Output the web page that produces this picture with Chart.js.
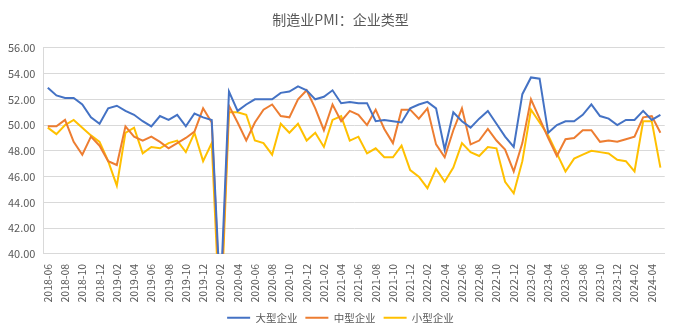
<!DOCTYPE html>
<html>
<head>
<meta charset="utf-8">
<script src="https://cdn.jsdelivr.net/npm/chart.js"></script>
<style>
  html, body { margin: 0; padding: 0; background: #fff; }
  #wrap { width: 675px; height: 329px; }
</style>
</head>
<body>
<div id="wrap"><canvas id="myChart"></canvas></div>
<script>
  // months 2018-06 .. 2024-05
  const months = [];
  for (let y = 2018; y <= 2024; y++) {
    for (let m = 1; m <= 12; m++) {
      if (y === 2018 && m < 6) continue;
      if (y === 2024 && m > 5) break;
      months.push(y + '-' + String(m).padStart(2, '0'));
    }
  }

  const large = [
    52.9, 52.3, 52.1, 52.1, 51.6, 50.6, 50.1, 51.3, 51.5, 51.1, 50.8, 50.3,
    49.9, 50.7, 50.4, 50.8, 49.9, 50.9, 50.6, 50.4, 36.5, 52.6, 51.1, 51.6,
    52.0, 52.0, 52.0, 52.5, 52.6, 53.0, 52.7, 52.0, 52.2, 52.7, 51.7, 51.8,
    51.7, 51.7, 50.3, 50.4, 50.3, 50.2, 51.3, 51.6, 51.8, 51.3, 48.1, 51.0,
    50.3, 49.8, 50.5, 51.1, 50.1, 49.1, 48.3, 52.4, 53.7, 53.6, 49.4, 50.0,
    50.3, 50.3, 50.8, 51.6, 50.7, 50.5, 50.0, 50.4, 50.4, 51.1, 50.4, 50.8
  ];
  const medium = [
    49.9, 49.9, 50.4, 48.7, 47.7, 49.1, 48.4, 47.2, 46.9, 49.9, 49.1, 48.8,
    49.1, 48.7, 48.2, 48.6, 49.0, 49.5, 51.3, 50.2, 35.5, 51.5, 50.2, 48.8,
    50.2, 51.2, 51.6, 50.7, 50.6, 52.0, 52.7, 51.3, 49.6, 51.6, 50.3, 51.1,
    50.8, 50.0, 51.2, 49.7, 48.6, 51.2, 51.2, 50.5, 51.3, 48.5, 47.5, 49.6,
    51.3, 48.5, 48.8, 49.7, 48.8, 48.1, 46.4, 48.6, 52.0, 50.5, 49.0, 47.6,
    48.9, 49.0, 49.6, 49.6, 48.7, 48.8, 48.7, 48.9, 49.1, 50.6, 50.7, 49.4
  ];
  const small = [
    49.8, 49.3, 50.0, 50.4, 49.8, 49.2, 48.7, 47.2, 45.3, 49.4, 49.8, 47.8,
    48.3, 48.2, 48.6, 48.8, 47.9, 49.4, 47.2, 48.6, 34.1, 51.0, 51.0, 50.8,
    48.8, 48.6, 47.7, 50.1, 49.4, 50.1, 48.8, 49.4, 48.3, 50.4, 50.7, 48.8,
    49.1, 47.8, 48.2, 47.5, 47.5, 48.4, 46.5, 46.0, 45.1, 46.6, 45.6, 46.7,
    48.6, 47.9, 47.6, 48.3, 48.2, 45.6, 44.7, 47.2, 51.2, 50.2, 49.2, 47.8,
    46.4, 47.4, 47.7, 48.0, 47.9, 47.8, 47.3, 47.2, 46.4, 50.3, 50.3, 46.7
  ];

  const seriesNames = ['大型企业', '中型企业', '小型企业'];
  const colors = ['#4472C4', '#ED7D31', '#FFC000'];
  const font = "'Noto Sans CJK SC', 'Liberation Sans', sans-serif";
  const textColor = '#595959';

  const mk = (i, data) => ({
    label: seriesNames[i],
    data: data,
    borderColor: colors[i],
    backgroundColor: colors[i],
    borderWidth: 2,
    pointRadius: 0,
    tension: 0,
    fill: false
  });

  new Chart(document.getElementById('myChart').getContext('2d'), {
    type: 'line',
    data: {
      labels: months,
      datasets: [mk(0, large), mk(1, medium), mk(2, small)]
    },
    options: {
      responsive: true,
      maintainAspectRatio: false,
      animation: false,
      layout: { padding: { left: 0, right: -6, top: 5, bottom: -4 } },
      plugins: {
        title: {
          display: true,
          text: '制造业PMI：企业类型',
          color: textColor,
          font: { family: font, size: 14, weight: 'normal' },
          padding: { top: 6, bottom: 20 }
        },
        legend: {
          position: 'bottom',
          labels: {
            color: textColor,
            font: { family: font, size: 10.5 },
            usePointStyle: true,
            pointStyle: 'line',
            pointStyleWidth: 23,
            padding: 8
          }
        },
        tooltip: { enabled: false }
      },
      scales: {
        x: {
          offset: true,
          grid: { display: false },
          border: { display: true, color: '#d9d9d9' },
          ticks: {
            autoSkip: false,
            minRotation: 90,
            maxRotation: 90,
            padding: 2,
            color: textColor,
            font: { family: font, size: 10.5 },
            callback: function (v, i) { return i % 2 === 0 ? months[i] : ''; }
          }
        },
        y: {
          min: 40,
          max: 56,
          grid: { color: '#d9d9d9', drawTicks: false },
          border: { display: true, color: '#d9d9d9' },
          ticks: {
            stepSize: 2,
            padding: 8,
            color: textColor,
            font: { family: font, size: 11 },
            callback: v => v.toFixed(2)
          }
        }
      }
    }
  });
</script>
</body>
</html>
